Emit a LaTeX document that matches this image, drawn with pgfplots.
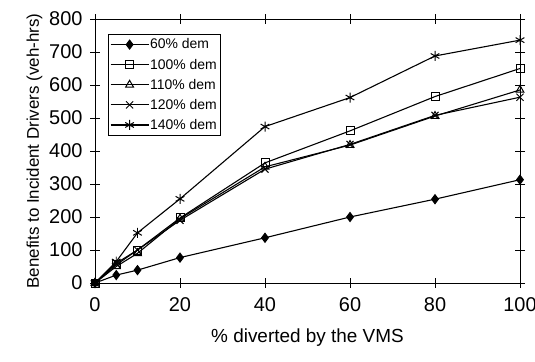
\documentclass[border=0pt]{standalone}
\usepackage{pgfplots}
\pgfplotsset{compat=1.18}
\usepackage{fontspec}
\setmainfont{Liberation Sans}
\begin{document}
\begin{tikzpicture}
\path[use as bounding box] (0,0) rectangle (535bp,362bp);
\begin{axis}[
  at={(95bp,79bp)}, anchor=south west,
  scale only axis, width=425bp, height=264bp,
  xmin=0, xmax=100, ymin=0, ymax=800,
  xtick={0,20,40,60,80,100}, ytick={0,100,...,800},
  tick align=center, major tick length=10bp,
  tick style={black, line width=0.8pt},
  axis line style={black, line width=1pt},
  /pgf/number format/assume math mode=true,
  ticklabel style={font=\fontsize{20}{22}\selectfont},
  xticklabel style={yshift=-6bp},
  yticklabel style={xshift=-4bp},
  xlabel={\% diverted by the VMS},
  ylabel={Benefits to Incident Drivers (veh-hrs)},
  xlabel style={font=\fontsize{19}{21}\selectfont, yshift=-10bp},
  ylabel style={font=\fontsize{17}{19}\selectfont, yshift=0bp},
  legend style={at={(0.03,0.945)}, anchor=north west, font=\fontsize{14}{16}\selectfont,
    draw=black, line width=0.6pt, row sep=4.5bp, inner xsep=2bp, inner ysep=3bp,
    nodes={inner xsep=1bp}},
  legend cell align=left,
  legend image code/.code={\draw[line width=1.1pt, mark options={solid, line width=1pt}, mark repeat=2,mark phase=2] plot coordinates {(0bp,0bp) (19bp,0bp) (38bp,0bp)};},
  every axis plot/.append style={black, line width=1.1pt, mark options={solid, line width=1pt}},
]
\addplot[mark=diamond*, mark size=4.5bp] coordinates {(0,0) (5,24) (10,39) (20,77) (40,137) (60,200) (80,254) (100,313)};
\addlegendentry{60\% dem}
\addplot[mark=square, mark size=4bp] coordinates {(0,0) (5,55) (10,100) (20,197) (40,364) (60,461) (80,565) (100,650)};
\addlegendentry{100\% dem}
\addplot[mark=triangle, mark size=4.5bp] coordinates {(0,0) (5,50) (10,90) (20,195) (40,352) (60,418) (80,506) (100,585)};
\addlegendentry{110\% dem}
\addplot[mark=x, mark size=5bp] coordinates {(0,0) (5,60) (10,100) (20,190) (40,345) (60,420) (80,508) (100,563)};
\addlegendentry{120\% dem}
\addplot[mark=asterisk, mark size=5bp] coordinates {(0,0) (5,65) (10,152) (20,255) (40,474) (60,562) (80,688) (100,736)};
\addlegendentry{140\% dem}
\end{axis}
\end{tikzpicture}
\end{document}
